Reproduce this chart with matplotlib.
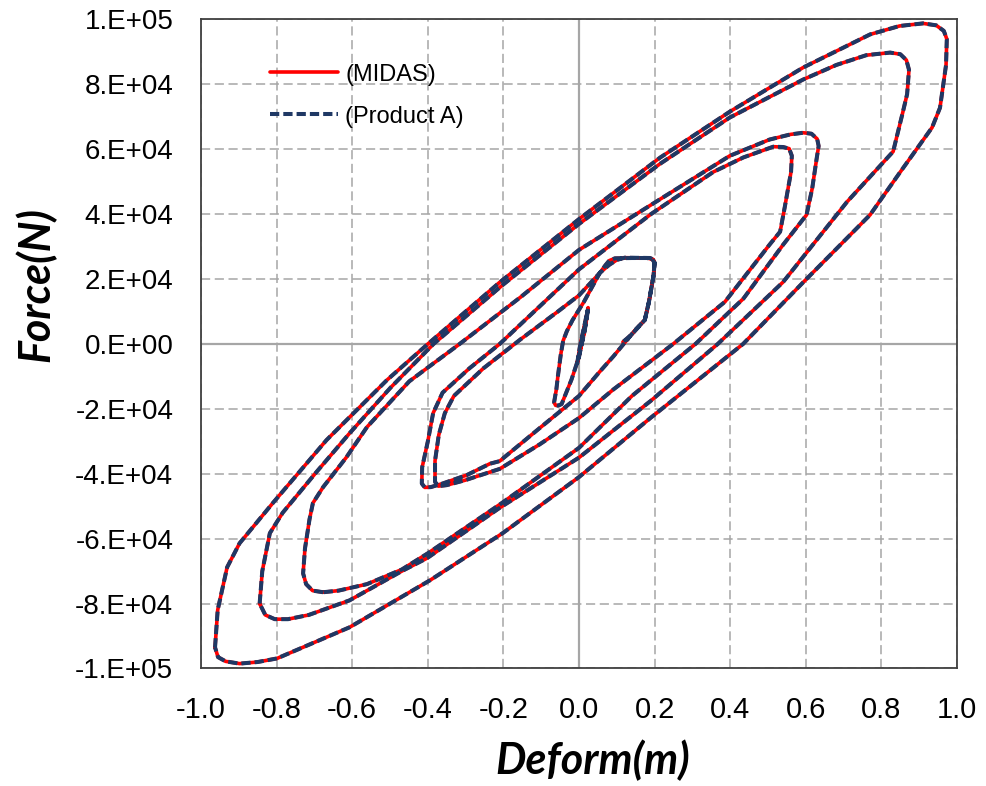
"""
Hysteresis loops of the damper: MIDAS vs Product A (same curves, overlaid)
"""
import matplotlib
matplotlib.use("Agg")
from matplotlib import pyplot as plt
from matplotlib.axes import Axes

# ---- values (deform in m, force in N) ----
# small cycles + the two loops that end at -0.4 m, traced as one path
small_deform = [0.005, 0.018, 0.024, 0.020, 0.000, -0.005, 0.002, 0.022, 0.015, -0.003,
                -0.020, -0.046, -0.055, -0.062, -0.066, -0.060, -0.056, -0.048, -0.042, -0.032,
                -0.017, 0.013, 0.055, 0.070, 0.080, 0.095, 0.140, 0.180, 0.194, 0.200,
                0.197, 0.185, 0.174, 0.150,
                0.091, 0.055, 0.000, -0.105, -0.210, -0.236, -0.297, -0.361, -0.392, -0.408,
                -0.416, -0.415, -0.400, -0.386, -0.361,
                -0.290, -0.210, -0.105, 0.000, 0.190, 0.355, 0.435, 0.514, 0.540, 0.556,
                0.563, 0.561, 0.544, 0.532, 0.504, 0.386, 0.249, 0.091, 0.000, -0.105,
                -0.210, -0.302, -0.350, -0.372, -0.381, -0.381, -0.371, -0.355, -0.331,
                -0.253, -0.154, -0.056, 0.000, 0.055, 0.080, 0.100, 0.121, 0.188, 0.197,
                0.200, 0.197, 0.185, 0.174, 0.140, 0.116, 0.130]
small_force = [0, 7000, 11200, 7500, -4000, -6000, -1000, 10000, 4000, -5000,
               -11000, -18500, -19000, -18900, -18000, -14000, -10000, -3000, 1000, 4000,
               7400, 13000, 21900, 24300, 25700, 26400, 26500, 26500, 26100, 25000,
               21000, 13000, 7400, 4500,
               -3800, -8500, -16000, -26000, -36100, -36900, -40400, -43000, -44100, -44200,
               -43000, -38000, -30000, -21300, -15000,
               -7500, 0, 11500, 23000, 40000, 53000, 57500, 60800, 60700, 60200,
               58000, 53100, 42000, 34600, 30600, 13000, 0, -14000, -22800, -31000,
               -38500, -42000, -43500, -43800, -42500, -36000, -28000, -21300, -16000,
               -7500, 1500, 10000, 15000, 21900, 24400, 25900, 26600, 26500, 26000,
               25000, 21000, 13000, 7400, 3000, 600, 1500]

# loop reaching about +-0.65 m
loop4_deform = [-0.677, -0.705, -0.722, -0.730, -0.725, -0.713, -0.704, -0.677, -0.616, -0.561,
                -0.449, -0.316, -0.154, 0.000, 0.206, 0.399, 0.504, 0.560, 0.593, 0.615,
                0.630, 0.634, 0.629, 0.617, 0.602, 0.540, 0.435, 0.308, 0.140,
                0.000, -0.204, -0.400, -0.469, -0.561, -0.636, -0.677]
loop4_force = [-76500, -76000, -74000, -70700, -63000, -54000, -49000, -44100, -35000, -25600,
               -11500, 0, 14500, 29000, 44000, 58000, 63000, 64600, 65100, 64800,
               63200, 61000, 57400, 48000, 39800, 30600, 14000, 0, -16000,
               -32000, -49000, -64500, -69500, -74000, -76000, -76500]

# loop reaching about +0.87 / -0.85 m
loop5_deform = [-0.845, -0.838, -0.818, -0.784, -0.695, -0.607, -0.499, -0.385, -0.204, 0.000,
                0.214, 0.399, 0.593, 0.681, 0.760, 0.823, 0.850, 0.866, 0.873, 0.868,
                0.857, 0.831, 0.709, 0.540, 0.367, 0.190, 0.000, -0.210, -0.402, -0.469,
                -0.607, -0.715, -0.770, -0.805, -0.830, -0.845]
loop5_force = [-80000, -70000, -58300, -52000, -39500, -27500, -13500, 0, 18000, 37000,
               55500, 69800, 81500, 86000, 89000, 89800, 89300, 87500, 84500, 77000,
               71600, 59300, 43800, 19100, 0, -17500, -35000, -50500, -66000, -70000,
               -79000, -83500, -84800, -84800, -83500, -80000]

# outermost loop
loop6_deform = [-0.963, -0.956, -0.931, -0.898, -0.810, -0.668, -0.508, -0.400, -0.210, 0.000,
                0.214, 0.399, 0.593, 0.770, 0.848, 0.910, 0.945, 0.965, 0.973, 0.971,
                0.955, 0.934, 0.848, 0.770, 0.593, 0.434, 0.190, 0.000, -0.202, -0.394,
                -0.607, -0.799, -0.850, -0.898, -0.935, -0.955, -0.963]
loop6_force = [-93500, -82000, -68800, -61400, -49000, -29600, -11100, 0, 19000, 38500,
               57400, 71600, 85200, 95400, 98000, 98800, 98200, 96500, 94000, 86000,
               72800, 66700, 52700, 39800, 19000, 0, -22700, -41000, -58300, -72800,
               -87300, -96900, -98000, -98500, -97800, -96500, -93500]

x_ticks = [-1.0, -0.8, -0.6, -0.4, -0.2, 0.0, 0.2, 0.4, 0.6, 0.8, 1.0]
x_tick_labels = ["-1.0", "-0.8", "-0.6", "-0.4", "-0.2", "0.0", "0.2", "0.4", "0.6", "0.8", "1.0"]
y_ticks = [100000, 80000, 60000, 40000, 20000, 0, -20000, -40000, -60000, -80000, -100000]
y_tick_labels = ["1.E+05", "8.E+04", "6.E+04", "4.E+04", "2.E+04", "0.E+00",
                 "-2.E+04", "-4.E+04", "-6.E+04", "-8.E+04", "-1.E+05"]

MIDAS_COLOR = "#ff0000"
PRODUCT_COLOR = "#1f3864"
GRID_COLOR = "#a6a6a6"
TICK_FONT = "Liberation Sans"
LABEL_FONT = "Lato"


def add_loop(ax: Axes, deform: list, force: list, with_label: bool) -> None:
    """Red solid MIDAS curve with the dashed Product A curve on top of it"""
    ax.plot(deform, force, color=MIDAS_COLOR, lw=2.6, zorder=3,
            solid_joinstyle="round", solid_capstyle="round",
            label="(MIDAS)" if with_label else None)
    ax.plot(deform, force, color=PRODUCT_COLOR, lw=2.9, dashes=(2.3, 1.0), zorder=4,
            dash_joinstyle="round",
            label="(Product A)" if with_label else None)


fig = plt.figure(figsize=(9.86, 7.86), dpi=100)
ax = fig.add_axes([0.2039, 0.1495, 0.7667, 0.8257])
ax: Axes

add_loop(ax, small_deform, small_force, True)
add_loop(ax, loop4_deform, loop4_force, False)
add_loop(ax, loop5_deform, loop5_force, False)
add_loop(ax, loop6_deform, loop6_force, False)

# Excel-like dashed grid plus solid zero axes
ax.grid(True, color=GRID_COLOR, lw=1.1, linestyle=(0, (6, 3)), zorder=0)
ax.axhline(0, color=GRID_COLOR, lw=1.6, zorder=1)
ax.axvline(0, color=GRID_COLOR, lw=1.6, zorder=1)
ax.set_axisbelow(True)

ax.set_xlim(-1.0, 1.0)
ax.set_ylim(-100000, 100000)
ax.set_xticks(x_ticks)
ax.set_xticklabels(x_tick_labels, fontfamily=TICK_FONT, fontsize=21)
ax.set_yticks(y_ticks)
ax.set_yticklabels(y_tick_labels, fontfamily=TICK_FONT, fontsize=20)
ax.tick_params(axis="x", length=0, pad=20)
ax.tick_params(axis="y", length=0, pad=20)
for spine in ax.spines.values():
    spine.set_color("#404040")
    spine.set_linewidth(1.3)

leg = ax.legend(loc="upper left", bbox_to_anchor=(0.091, 0.932), frameon=False,
                prop={"family": TICK_FONT, "size": 17}, handlelength=2.9,
                handletextpad=0.3, labelspacing=0.85, borderpad=0, borderaxespad=0)

fig.text(593 / 986, 1 - 760 / 786, "Deform(m)", ha="center", va="center",
         fontfamily=LABEL_FONT, fontweight="bold", fontstyle="italic", fontsize=31)
fig.text(36 / 986, 1 - 285 / 786, "Force(N)", ha="center", va="center", rotation=90,
         fontfamily=LABEL_FONT, fontweight="bold", fontstyle="italic", fontsize=31)

plt.savefig("out.png", dpi=100)
